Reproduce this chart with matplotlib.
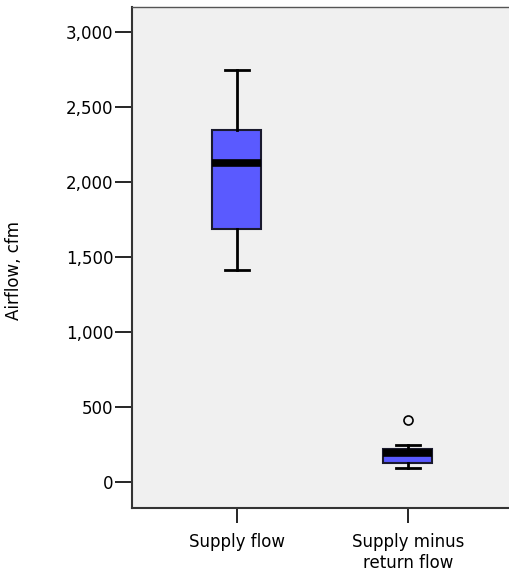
import matplotlib
matplotlib.use("Agg")
from matplotlib import pyplot as plt
from matplotlib.ticker import FuncFormatter

# box summary values read per group (cfm)
groups = ["Supply flow", "Supply minus\nreturn flow"]
whislo = [1413, 93]
q1 = [1687, 127]
med = [2127, 193]
q3 = [2347, 220]
whishi = [2747, 247]
fliers = [[], [413]]

stats = []
for i in range(len(groups)):
    stats.append(dict(label=groups[i], whislo=whislo[i], q1=q1[i], med=med[i],
                      q3=q3[i], whishi=whishi[i], fliers=fliers[i]))

plt.rcParams['font.family'] = ['DejaVu Sans']

fig = plt.figure(figsize=(5.09, 5.79), dpi=100)
ax = fig.add_axes([0.2593, 0.1226, 0.7407, 0.8653])
ax.set_facecolor("#f0f0f0")

ax.bxp(stats, positions=[1, 2], widths=0.2866, capwidths=0.14,
       patch_artist=True, showfliers=True,
       boxprops=dict(facecolor="#5a5aff", edgecolor="#1a1a2e", linewidth=1.5),
       medianprops=dict(color="black", linewidth=5.5, solid_capstyle="butt"),
       whiskerprops=dict(color="black", linewidth=2),
       capprops=dict(color="black", linewidth=2),
       flierprops=dict(marker="o", markerfacecolor="none", markeredgecolor="black",
                       markersize=6.5, markeredgewidth=1.2))

ax.set_xlim(0.386, 2.591)
ax.set_ylim(-173, 3167)
ax.set_yticks(range(0, 3001, 500))
ax.yaxis.set_major_formatter(FuncFormatter(lambda v, p: f"{int(v):,}"))
ax.set_xticks([1, 2])
ax.set_xticklabels(groups)

for s in ["left", "bottom"]:
    ax.spines[s].set_color("#333333")
    ax.spines[s].set_linewidth(1.5)
ax.spines["top"].set_color("#555555")
ax.spines["top"].set_linewidth(1.0)
ax.spines["right"].set_visible(False)

ax.tick_params(axis="y", length=12, width=1.2, pad=1.5, labelsize=12)
ax.tick_params(axis="x", length=11, width=1.2, pad=7, labelsize=12)
ax.set_ylabel("Airflow, cfm", fontsize=12)
ax.yaxis.set_label_coords(-0.289, 0.475)

fig.savefig("out.png", dpi=100)
